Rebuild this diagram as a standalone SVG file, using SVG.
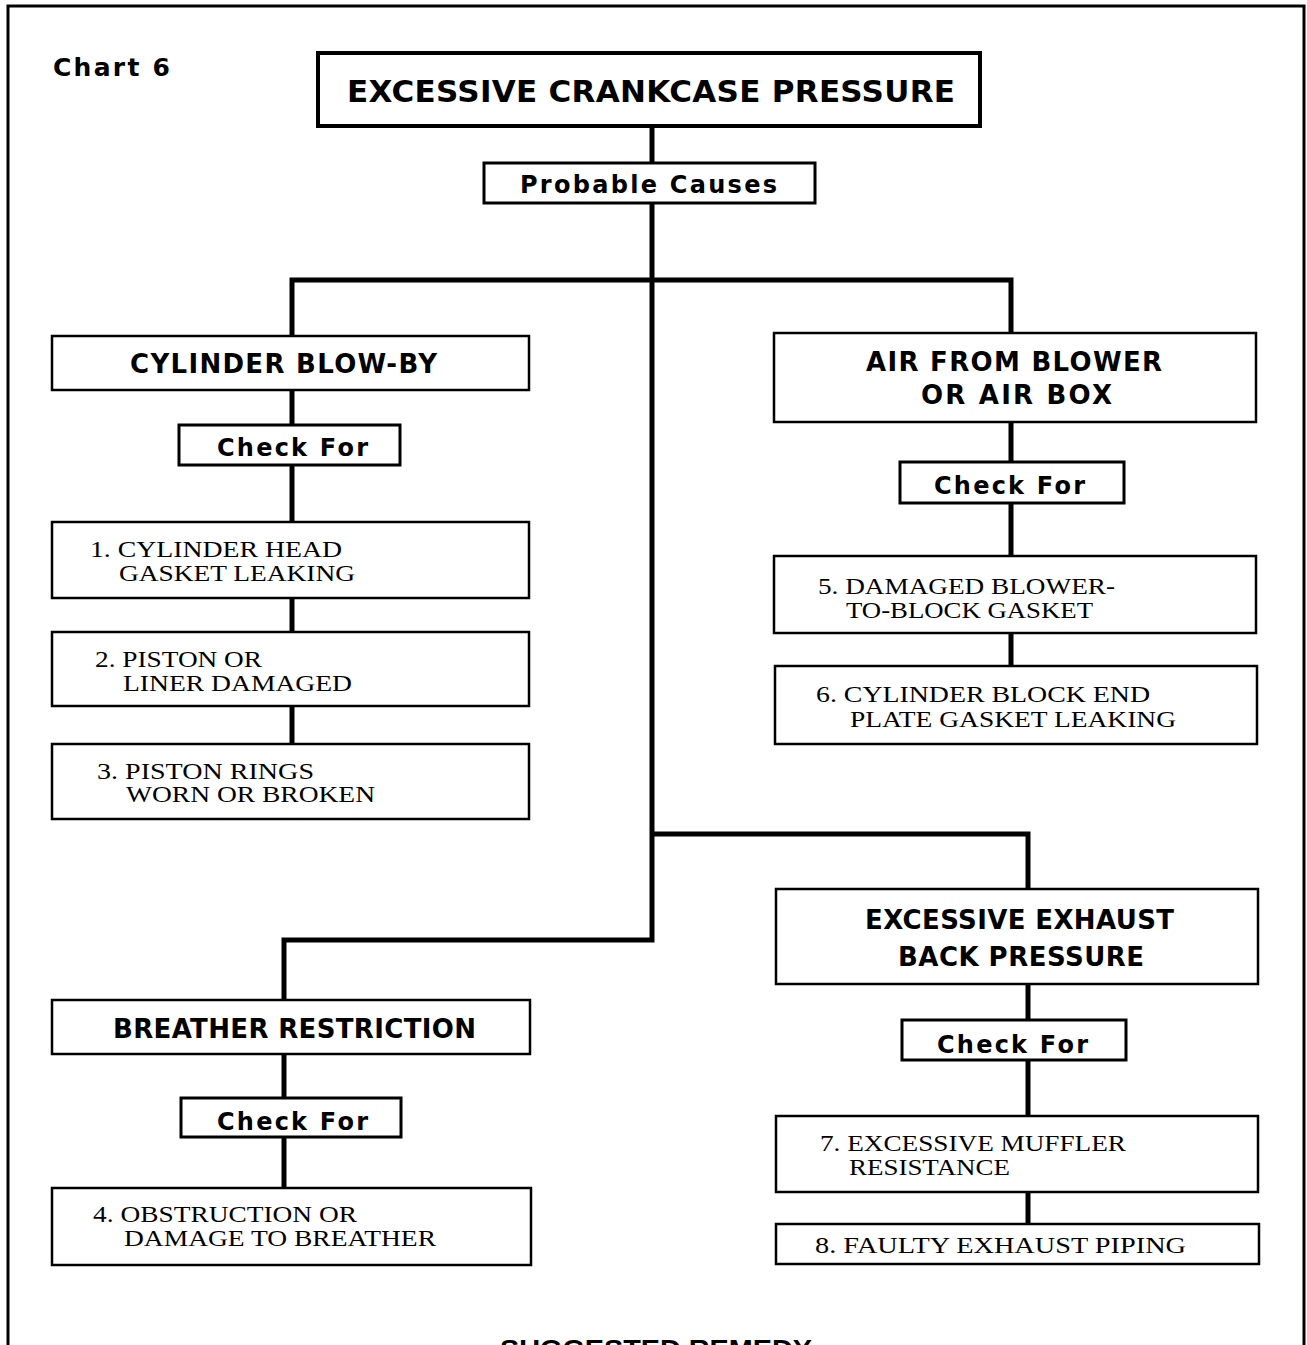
<svg xmlns="http://www.w3.org/2000/svg" width="1307" height="1345" viewBox="0 0 1307 1345">
  <style>
    .frame { fill: none; stroke: #000; stroke-width: 3; }
    .box { fill: #fff; stroke: #000; stroke-width: 2.5; }
    .main { stroke-width: 4; }
    .chk { stroke-width: 3; }
    .wire { fill: none; stroke: #000; stroke-width: 5; stroke-linejoin: miter; }
    .hd { font-family: "DejaVu Sans", "Liberation Sans", Arial, sans-serif; font-weight: bold; fill: #000; }
    .it { font-family: "Liberation Serif", "Times New Roman", serif; font-size: 24px; fill: #000; }
  </style>

  <rect x="0" y="0" width="1307" height="1345" fill="#fff"/>
  <!-- page frame, open at the bottom -->
  <path class="frame" d="M8,1345 V6 H1304 V1345"/>

  <text class="hd" x="53" y="76" font-size="25" textLength="117" lengthAdjust="spacing">Chart 6</text>

  <!-- connectors -->
  <g id="connectors">
    <path class="wire" d="M652,126 V940 H284 V1000"/>
    <path class="wire" d="M292,336 V280 H1011 V333"/>
    <path class="wire" d="M652,834 H1028 V889"/>
    <path class="wire" d="M292,390 V744"/>
    <path class="wire" d="M1011,422 V666"/>
    <path class="wire" d="M284,1054 V1188"/>
    <path class="wire" d="M1028,984 V1224"/>
  </g>

  <g id="title">
    <rect class="box main" x="318" y="53" width="662" height="73"/>
    <text class="hd" x="347" y="102" font-size="31" textLength="608" lengthAdjust="spacing">EXCESSIVE CRANKCASE PRESSURE</text>
  </g>

  <g id="probable-causes">
    <rect class="box chk" x="484" y="163" width="331" height="40"/>
    <text class="hd" x="520" y="193" font-size="24" textLength="257" lengthAdjust="spacing">Probable Causes</text>
  </g>

  <!-- left branch: cylinder blow-by -->
  <g id="cylinder-blow-by">
    <rect class="box" x="52" y="336" width="477" height="54"/>
    <text class="hd" x="130" y="373" font-size="26" textLength="307" lengthAdjust="spacing">CYLINDER BLOW-BY</text>
  </g>
  <g id="check-for-1">
    <rect class="box chk" x="179" y="425" width="221" height="40"/>
    <text class="hd" x="217" y="456" font-size="24" textLength="151" lengthAdjust="spacing">Check For</text>
  </g>
  <g id="item-1">
    <rect class="box" x="52" y="522" width="477" height="76"/>
    <text class="it" x="90" y="557" textLength="252" lengthAdjust="spacingAndGlyphs">1. CYLINDER HEAD</text>
    <text class="it" x="119" y="581" textLength="236" lengthAdjust="spacingAndGlyphs">GASKET LEAKING</text>
  </g>
  <g id="item-2">
    <rect class="box" x="52" y="632" width="477" height="74"/>
    <text class="it" x="95" y="667" textLength="167" lengthAdjust="spacingAndGlyphs">2. PISTON OR</text>
    <text class="it" x="123" y="691" textLength="229" lengthAdjust="spacingAndGlyphs">LINER DAMAGED</text>
  </g>
  <g id="item-3">
    <rect class="box" x="52" y="744" width="477" height="75"/>
    <text class="it" x="97" y="779" textLength="217" lengthAdjust="spacingAndGlyphs">3. PISTON RINGS</text>
    <text class="it" x="126" y="802" textLength="249" lengthAdjust="spacingAndGlyphs">WORN OR BROKEN</text>
  </g>

  <!-- right branch: air from blower -->
  <g id="air-from-blower">
    <rect class="box" x="774" y="333" width="482" height="89"/>
    <text class="hd" x="866" y="371" font-size="26" textLength="296" lengthAdjust="spacing">AIR FROM BLOWER</text>
    <text class="hd" x="921" y="404" font-size="26" textLength="191" lengthAdjust="spacing">OR AIR BOX</text>
  </g>
  <g id="check-for-2">
    <rect class="box chk" x="900" y="462" width="224" height="41"/>
    <text class="hd" x="934" y="494" font-size="24" textLength="151" lengthAdjust="spacing">Check For</text>
  </g>
  <g id="item-5">
    <rect class="box" x="774" y="556" width="482" height="77"/>
    <text class="it" x="818" y="594" textLength="297" lengthAdjust="spacingAndGlyphs">5. DAMAGED BLOWER-</text>
    <text class="it" x="846" y="618" textLength="247" lengthAdjust="spacingAndGlyphs">TO-BLOCK GASKET</text>
  </g>
  <g id="item-6">
    <rect class="box" x="775" y="666" width="482" height="78"/>
    <text class="it" x="816" y="702" textLength="334" lengthAdjust="spacingAndGlyphs">6. CYLINDER BLOCK END</text>
    <text class="it" x="850" y="727" textLength="326" lengthAdjust="spacingAndGlyphs">PLATE GASKET LEAKING</text>
  </g>

  <!-- lower left: breather restriction -->
  <g id="breather-restriction">
    <rect class="box" x="52" y="1000" width="478" height="54"/>
    <text class="hd" x="113" y="1038" font-size="26" textLength="363" lengthAdjust="spacing">BREATHER RESTRICTION</text>
  </g>
  <g id="check-for-3">
    <rect class="box chk" x="181" y="1098" width="220" height="39"/>
    <text class="hd" x="217" y="1130" font-size="24" textLength="151" lengthAdjust="spacing">Check For</text>
  </g>
  <g id="item-4">
    <rect class="box" x="52" y="1188" width="479" height="77"/>
    <text class="it" x="93" y="1222" textLength="264" lengthAdjust="spacingAndGlyphs">4. OBSTRUCTION OR</text>
    <text class="it" x="124" y="1246" textLength="312" lengthAdjust="spacingAndGlyphs">DAMAGE TO BREATHER</text>
  </g>

  <!-- lower right: exhaust back pressure -->
  <g id="exhaust-back-pressure">
    <rect class="box" x="776" y="889" width="482" height="95"/>
    <text class="hd" x="865" y="929" font-size="26" textLength="309" lengthAdjust="spacing">EXCESSIVE EXHAUST</text>
    <text class="hd" x="898" y="966" font-size="26" textLength="246" lengthAdjust="spacing">BACK PRESSURE</text>
  </g>
  <g id="check-for-4">
    <rect class="box chk" x="902" y="1020" width="224" height="40"/>
    <text class="hd" x="937" y="1053" font-size="24" textLength="151" lengthAdjust="spacing">Check For</text>
  </g>
  <g id="item-7">
    <rect class="box" x="776" y="1116" width="482" height="76"/>
    <text class="it" x="820" y="1151" textLength="306" lengthAdjust="spacingAndGlyphs">7. EXCESSIVE MUFFLER</text>
    <text class="it" x="849" y="1175" textLength="161" lengthAdjust="spacingAndGlyphs">RESISTANCE</text>
  </g>
  <g id="item-8">
    <rect class="box" x="776" y="1224" width="483" height="40"/>
    <text class="it" x="815" y="1253" textLength="371" lengthAdjust="spacingAndGlyphs">8. FAULTY EXHAUST PIPING</text>
  </g>

  <text x="500" y="1358" font-family="'Liberation Sans', Arial, sans-serif" font-weight="bold" font-size="25" textLength="312" lengthAdjust="spacingAndGlyphs">SUGGESTED REMEDY</text>
</svg>
